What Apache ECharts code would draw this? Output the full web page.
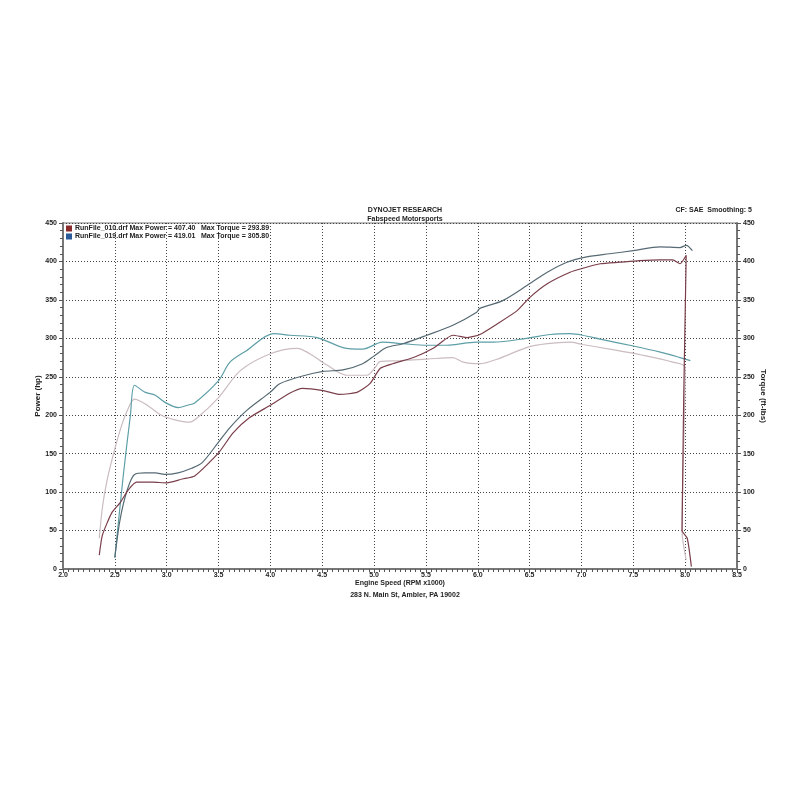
<!DOCTYPE html>
<html><head><meta charset="utf-8">
<script src="https://cdn.jsdelivr.net/npm/echarts@6/dist/echarts.min.js"></script>
<style>html,body{margin:0;padding:0;background:#fff}#c{width:800px;height:800px}</style>
</head><body><div id="c"></div>
<script>
// RPM x1000 / value pairs
const power010 = [[2.35,18],[2.38,44],[2.47,73],[2.55,86],[2.63,103],[2.71,113],[2.86,113],[3.0,112],[3.15,117],[3.27,121],[3.5,151],[3.64,177],[3.8,197],[4.0,213],[4.19,229],[4.31,235],[4.51,232],[4.67,227],[4.84,230],[4.96,241],[5.06,261],[5.18,267],[5.38,275],[5.57,287],[5.76,304],[5.9,301],[6.02,305],[6.19,319],[6.38,336],[6.5,353],[6.67,371],[6.89,386],[7.01,391],[7.18,397],[7.37,399],[7.56,401],[7.76,402],[7.88,402],[7.95,397],[8.01,408],[7.97,50],[8.02,40],[8.06,3]];
const torque010 = [[2.35,40],[2.38,80],[2.42,112],[2.47,141],[2.55,180],[2.62,206],[2.69,221],[2.79,215],[2.95,200],[3.08,194],[3.22,191],[3.29,196],[3.5,223],[3.71,258],[4.0,280],[4.26,287],[4.38,280],[4.55,265],[4.74,252],[4.93,252],[5.01,262],[5.06,270],[5.25,271],[5.51,273],[5.76,275],[5.86,269],[6.02,267],[6.21,274],[6.47,288],[6.67,293],[6.89,295],[7.01,292],[7.27,286],[7.59,278],[7.88,269],[8.0,262],[7.97,50],[8.01,12]];
const power019 = [[2.5,15],[2.55,64],[2.62,103],[2.69,123],[2.79,125],[2.89,125],[2.98,123],[3.11,125],[3.24,131],[3.34,138],[3.5,165],[3.61,184],[3.77,206],[4.0,230],[4.09,241],[4.31,251],[4.51,257],[4.7,259],[4.89,267],[5.01,278],[5.12,288],[5.28,293],[5.51,304],[5.76,317],[5.99,334],[6.02,339],[6.24,349],[6.5,371],[6.67,386],[6.86,399],[7.05,406],[7.27,410],[7.5,414],[7.76,419],[7.95,418],[8.01,421],[8.07,414]];
const torque019 = [[2.5,15],[2.58,120],[2.65,200],[2.69,239],[2.79,230],[2.89,226],[2.98,217],[3.11,210],[3.2,213],[3.27,216],[3.5,245],[3.61,269],[3.77,284],[4.03,306],[4.19,304],[4.45,301],[4.7,288],[4.89,286],[5.08,295],[5.28,293],[5.51,291],[5.7,291],[5.99,295],[6.15,295],[6.47,300],[6.7,305],[6.89,306],[7.01,304],[7.18,299],[7.5,290],[7.76,282],[7.95,275],[8.05,271]];
const legendLines = ['RunFile_010.drf Max Power = 407.40', 'RunFile_019.drf Max Power = 419.01'];
const legendTorque = ['Max Torque = 293.89', 'Max Torque = 305.80'];

const FONT = 'Liberation Sans';
const txt = {fontFamily: FONT, fontSize: 7, fontWeight: 'bold', color: '#222'};
const chart = echarts.init(document.getElementById('c'), null, {renderer: 'canvas'});
const axisCommon = {
  min: 0, max: 450, interval: 50,
  axisLine: {show: true, lineStyle: {color: '#777', width: 2}},
  axisTick: {show: true, length: 4, lineStyle: {color: '#555'}},
  minorTick: {show: true, splitNumber: 5, length: 3, lineStyle: {color: '#555'}},
  axisLabel: Object.assign({margin: 6}, txt),
  nameTextStyle: Object.assign({}, txt, {fontSize: 8}),
  nameLocation: 'middle',
  nameMoveOverlap: false
};
chart.setOption({
  animation: false,
  backgroundColor: '#fff',
  title: [
    {text: 'DYNOJET RESEARCH', left: 400, top: 202, textAlign: 'center', textStyle: Object.assign({}, txt)},
    {text: 'Fabspeed Motorsports', left: 400, top: 211, textAlign: 'center', textStyle: Object.assign({}, txt)},
    {text: 'CF: SAE  Smoothing: 5', right: 43, top: 202, textStyle: Object.assign({}, txt)},
    {text: '283 N. Main St, Ambler, PA 19002', left: 400, top: 587, textAlign: 'center', textStyle: Object.assign({}, txt)}
  ],
  legend: {
    orient: 'vertical', left: 66, top: 225, itemGap: 1, itemWidth: 6, itemHeight: 6, icon: 'rect',
    data: [
      {name: 'P010', itemStyle: {color: '#8a2a2a'}},
      {name: 'P019', itemStyle: {color: '#2a5a9a'}}
    ],
    formatter: function (n) { const i = n === 'P010' ? 0 : 1; return '{a|' + legendLines[i] + '}{b|' + legendTorque[i] + '}'; },
    textStyle: {rich: {a: Object.assign({width: 126}, txt), b: Object.assign({}, txt)}, padding: [0,0,0,-2]},
    padding: 0
  },
  grid: {left: 63, right: 63, top: 223, bottom: 231, show: true, borderColor: '#777', borderWidth: 1},
  xAxis: {
    type: 'value', min: 2.0, max: 8.5, interval: 0.5,
    name: 'Engine Speed (RPM x1000)', nameLocation: 'middle', nameGap: 11, nameMoveOverlap: false,
    nameTextStyle: Object.assign({}, txt),
    axisLine: {show: true, lineStyle: {color: '#777', width: 2}},
    axisTick: {show: true, length: 4, lineStyle: {color: '#555'}},
    minorTick: {show: true, splitNumber: 10, length: 3, lineStyle: {color: '#555'}},
    axisLabel: Object.assign({margin: 3, formatter: v => v.toFixed(1)}, txt),
    splitLine: {show: true, lineStyle: {color: '#444', type: [1, 2], width: 1}}
  },
  yAxis: [
    Object.assign({}, axisCommon, {type: 'value', position: 'left', name: 'Power (hp)', nameGap: 21, nameRotate: 90,
      splitLine: {show: true, lineStyle: {color: '#444', type: [1, 2], width: 1}}}),
    Object.assign({}, axisCommon, {type: 'value', position: 'right', name: 'Torque (ft-lbs)', nameGap: 22, nameRotate: -90,
      splitLine: {show: false}})
  ],
  series: [
    {name: 'T010', type: 'line', yAxisIndex: 1, data: torque010, showSymbol: false, smooth: 0.3, lineStyle: {color: '#cbbcc0', width: 1.2}, itemStyle: {color: '#cbbcc0'}, z: 2},
    {name: 'T019', type: 'line', yAxisIndex: 1, data: torque019, showSymbol: false, smooth: 0.3, lineStyle: {color: '#5d9ea6', width: 1.2}, itemStyle: {color: '#5d9ea6'}, z: 3},
    {name: 'P019', type: 'line', yAxisIndex: 0, data: power019, showSymbol: false, smooth: 0.3, lineStyle: {color: '#566a74', width: 1.2}, itemStyle: {color: '#566a74'}, z: 4},
    {name: 'P010', type: 'line', yAxisIndex: 0, data: power010, showSymbol: false, smooth: 0.2, lineStyle: {color: '#7a3f4a', width: 1.2}, itemStyle: {color: '#7a3f4a'}, z: 5}
  ]
});
</script></body></html>
